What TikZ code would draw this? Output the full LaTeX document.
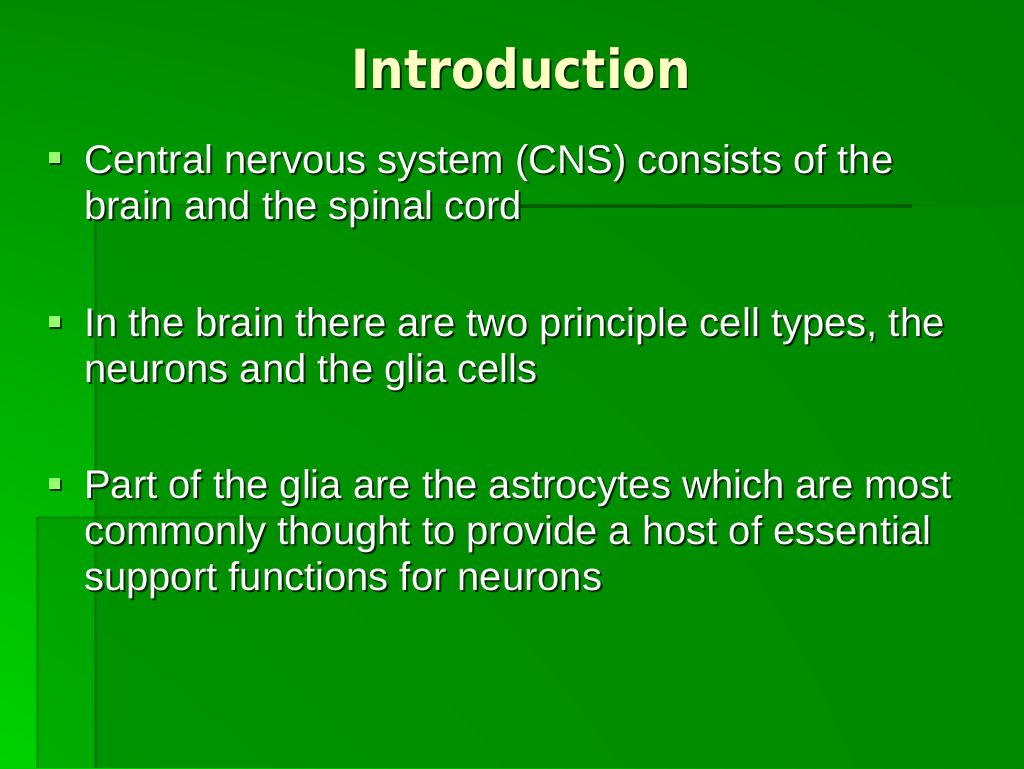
\documentclass[tikz,border=0pt]{standalone}
\usepackage{fontspec}
\setmainfont{Liberation Sans}
\newfontfamily\titlefont{DejaVu Sans}
\usepackage{tikz}
\usetikzlibrary{shadings}

\definecolor{slidedark}{RGB}{0,128,0}
\definecolor{slidemid}{RGB}{0,140,0}
\definecolor{slidebright}{RGB}{0,210,0}
\definecolor{edgegreen}{RGB}{0,100,0}
\definecolor{bargreen}{RGB}{0,96,0}
\definecolor{titleyellow}{RGB}{255,255,196}
\definecolor{bulletgreen}{RGB}{150,255,110}
\definecolor{shadowgreen}{RGB}{0,45,0}

\newcommand{\shtxt}[1]{\makebox[0pt][l]{\raisebox{-2pt}{\hspace{2pt}\color{shadowgreen}#1}}#1}

\tikzset{
  bodyline/.style={anchor=base west, inner sep=0pt, text=white,
    font=\fontsize{40}{46}\selectfont},
  bulletbox/.style={fill=bulletgreen, minimum size=11pt, inner sep=0pt},
}

\begin{document}
\begin{tikzpicture}[x=1pt, y=-1pt]
\useasboundingbox (0,0) rectangle (1024,768);
\shade[upper left=slidemid, upper right=slidedark, lower left=slidebright, lower right=slidemid] (0,0) rectangle (1024,768); % background 
\fill[slidemid, opacity=0.75] (95,205) rectangle (1024,768); % panelA 
\fill[slidemid, opacity=0.5] (37,517) rectangle (1024,768); % panelB 
\draw[edgegreen, opacity=0.45, line width=3pt] (95,205) -- (95,768); % panelA.edge 
\draw[edgegreen, opacity=0.35, line width=3pt] (37,517) -- (37,768); % panelB.edge 
\draw[edgegreen, opacity=0.25, line width=2pt] (95,205) -- (1024,205); % panelA.top 
\draw[edgegreen, opacity=0.3, line width=3pt] (37,517) -- (300,517); % panelB.top 
\draw[bargreen, line width=4pt] (520,206) -- (912,206); % rule 

\node[text=titleyellow, inner sep=0pt, anchor=base] (title) at (521,88) {\titlefont\bfseries\fontsize{54}{60}\selectfont\scalebox{0.9}[1]{\shtxt{Introduction}}}; % title 

\fill[shadowgreen] (50,154) rectangle (62,165); % bullet1.shadow 
\node[bulletbox] (bullet1) at (54,157) {}; % bullet1 
\node[bodyline] (cns1) at (84,173) {\shtxt{Central nervous system (CNS) consists of the}}; % cns1 
\node[bodyline] (cns2) at (84,219) {\shtxt{brain and the spinal cord}}; % cns2 

\fill[shadowgreen] (50,318) rectangle (62,329); % bullet2.shadow 
\node[bulletbox] (bullet2) at (54,321) {}; % bullet2 
\node[bodyline] (cells1) at (84,336) {\shtxt{In the brain there are two principle cell types, the}}; % cells1 
\node[bodyline] (cells2) at (84,382) {\shtxt{neurons and the glia cells}}; % cells2 

\fill[shadowgreen] (50,480) rectangle (62,491); % bullet3.shadow 
\node[bulletbox] (bullet3) at (54,483) {}; % bullet3 
\node[bodyline] (glia1) at (84,498) {\shtxt{Part of the glia are the astrocytes which are most}}; % glia1 
\node[bodyline] (glia2) at (84,544) {\shtxt{commonly thought to provide a host of essential}}; % glia2 
\node[bodyline] (glia3) at (84,590) {\shtxt{support functions for neurons}}; % glia3 
\end{tikzpicture}
\end{document}
